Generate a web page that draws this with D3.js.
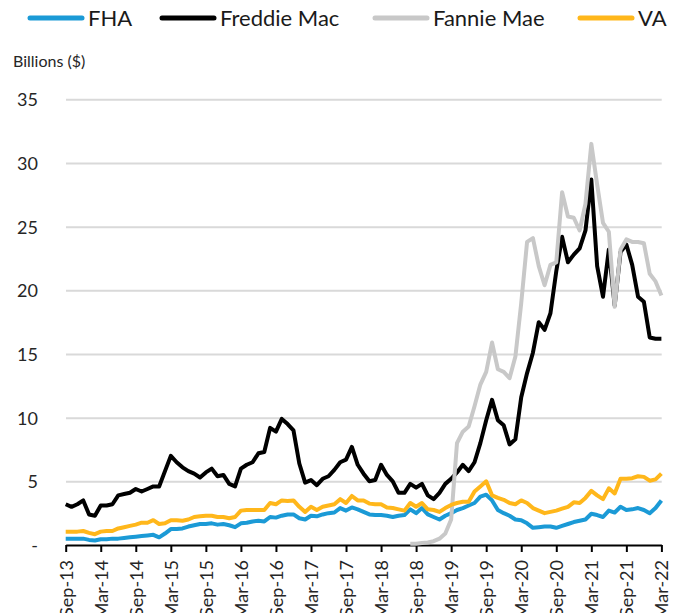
<!DOCTYPE html>
<html>
<head>
<meta charset="utf-8">
<script src="https://cdn.jsdelivr.net/npm/d3@7"></script>
<style>
  body { margin: 0; background: #fff; }
  svg { display: block; font-family: Lato, "Open Sans", sans-serif; }
</style>
</head>
<body>
<svg width="682" height="613"></svg>
<script>
// monthly, Sep-13 .. Mar-22, billions of dollars

var fha = [0.5, 0.5, 0.5, 0.5, 0.4, 0.35, 0.45, 0.45, 0.5, 0.5,
  0.55, 0.6, 0.65, 0.7, 0.75, 0.8, 0.6, 0.9, 1.25, 1.25,
  1.3, 1.45, 1.55, 1.65, 1.65, 1.7, 1.6, 1.65, 1.55, 1.4,
  1.7, 1.75, 1.85, 1.9, 1.85, 2.2, 2.15, 2.3, 2.4, 2.4,
  2.1, 2.0, 2.3, 2.25, 2.4, 2.5, 2.55, 2.9, 2.7, 2.95,
  2.8, 2.6, 2.4, 2.35, 2.35, 2.3, 2.2, 2.3, 2.35, 2.8,
  2.5, 2.9, 2.4, 2.2, 2.0, 2.3, 2.5, 2.75, 2.9, 3.1,
  3.3, 3.8, 3.95, 3.5, 2.75, 2.5, 2.3, 2.0, 1.95, 1.7,
  1.35, 1.4, 1.45, 1.45, 1.35, 1.5, 1.65, 1.8, 1.9, 2.0,
  2.45, 2.35, 2.2, 2.7, 2.55, 3.0, 2.75, 2.8, 2.9, 2.75,
  2.5, 2.9, 3.5];

var freddieMac = [3.2, 3.0, 3.2, 3.5, 2.4, 2.3, 3.1, 3.1, 3.2, 3.9,
  4.0, 4.1, 4.4, 4.2, 4.4, 4.6, 4.6, 5.8, 7.0, 6.5,
  6.1, 5.8, 5.6, 5.3, 5.7, 6.0, 5.4, 5.5, 4.8, 4.6,
  6.0, 6.3, 6.5, 7.2, 7.3, 9.2, 8.9, 9.9, 9.5, 9.0,
  6.4, 4.9, 5.1, 4.7, 5.2, 5.4, 5.9, 6.5, 6.7, 7.7,
  6.3, 5.6, 5.0, 5.1, 6.3, 5.5, 5.0, 4.1, 4.1, 4.8,
  4.5, 4.8, 3.9, 3.6, 4.1, 4.8, 5.2, 5.7, 6.3, 5.8,
  6.5, 8.0, 9.8, 11.4, 9.8, 9.4, 7.9, 8.3, 11.6, 13.5,
  15.1, 17.5, 16.9, 18.2, 21.5, 24.2, 22.2, 22.8, 23.3, 24.7,
  28.7, 21.9, 19.5, 23.2, 18.8, 23.0, 23.6, 22.0, 19.5, 19.1,
  16.3, 16.2, 16.2];

// Fannie Mae series only starts in Aug-18
var fannieMae = [null, null, null, null, null, null, null, null, null, null,
  null, null, null, null, null, null, null, null, null, null,
  null, null, null, null, null, null, null, null, null, null,
  null, null, null, null, null, null, null, null, null, null,
  null, null, null, null, null, null, null, null, null, null,
  null, null, null, null, null, null, null, null, null, 0.1,
  0.1, 0.15, 0.2, 0.3, 0.5, 0.9, 2.0, 8.0, 8.9, 9.3,
  10.9, 12.6, 13.6, 15.9, 13.8, 13.6, 13.1, 14.8, 19.0, 23.8,
  24.1, 21.9, 20.4, 22.0, 22.2, 27.7, 25.8, 25.7, 24.7, 26.8,
  31.5, 28.3, 25.3, 24.6, 18.7, 23.2, 24.0, 23.8, 23.8, 23.7,
  21.3, 20.7, 19.6];

var va = [1.05, 1.05, 1.05, 1.1, 0.95, 0.85, 1.05, 1.1, 1.1, 1.3,
  1.4, 1.5, 1.6, 1.75, 1.75, 1.95, 1.65, 1.7, 1.95, 1.95,
  1.9, 2.0, 2.2, 2.25, 2.3, 2.3, 2.2, 2.2, 2.1, 2.2,
  2.7, 2.75, 2.75, 2.75, 2.75, 3.3, 3.2, 3.5, 3.45, 3.5,
  3.0, 2.6, 3.0, 2.75, 3.0, 3.1, 3.2, 3.6, 3.3, 3.85,
  3.5, 3.5, 3.25, 3.2, 3.2, 2.95, 2.9, 2.8, 2.7, 3.3,
  3.0, 3.3, 2.8, 2.75, 2.6, 2.9, 3.15, 3.3, 3.4, 3.4,
  4.2, 4.6, 5.0, 3.9, 3.7, 3.55, 3.3, 3.2, 3.5, 3.3,
  2.9, 2.7, 2.5, 2.6, 2.7, 2.85, 3.0, 3.35, 3.3, 3.7,
  4.25, 3.9, 3.6, 4.45, 4.05, 5.2, 5.2, 5.25, 5.4, 5.35,
  5.05, 5.15, 5.6];

var seriesNames = ["FHA", "Freddie Mac", "Fannie Mae", "VA"];
var seriesColors = ["#1b9ad6", "#000000", "#c8c8c8", "#ffb71b"];
var seriesValues = [fha, freddieMac, fannieMae, va];

var yTicks = [0, 5, 10, 15, 20, 25, 30, 35];

var months = d3.timeMonth.range(new Date(2013, 8, 1), new Date(2022, 3, 1));
var fmtMonth = d3.timeFormat("%b-%y");

var svg = d3.select("svg");

var x = d3.scaleLinear()
    .domain([0, months.length - 1])
    .range([65.7, 661.4]);

var y = d3.scaleLinear()
    .domain([0, 35])
    .range([545, 99.3]);

// gridlines + y labels
var yAxis = d3.axisLeft(y)
    .tickValues(yTicks)
    .tickSize(-(661.4 - 65.7))
    .tickPadding(28)
    .tickFormat(function(d) { return d === 0 ? "-" : d; });

var gy = svg.append("g")
    .attr("transform", "translate(66,0)")
    .call(yAxis);

gy.select(".domain").remove();
gy.selectAll(".tick line")
    .attr("stroke", "#d9d9d9")
    .attr("stroke-width", 2)
    .filter(function(d) { return d === 0; }).remove();
gy.selectAll(".tick text")
    .attr("fill", "#262626")
    .attr("font-family", "Lato")
    .attr("font-size", 18)
    .attr("dy", "0.36em");

svg.append("text")
    .attr("x", 13)
    .attr("y", 67)
    .attr("fill", "#262626")
    .attr("font-size", 16)
    .text("Billions ($)");

// x axis, tick every 6 months
var tickIdx = d3.range(0, months.length, 6);

var xAxis = d3.axisBottom(x)
    .tickValues(tickIdx)
    .tickSize(7)
    .tickSizeOuter(0)
    .tickFormat(function(i) { return fmtMonth(months[i]); });

var gx = svg.append("g")
    .attr("transform", "translate(0,545)")
    .call(xAxis);

gx.select(".domain")
    .attr("stroke", "#000")
    .attr("stroke-width", 2);
gx.selectAll(".tick line")
    .attr("stroke", "#000")
    .attr("stroke-width", 2);
gx.selectAll(".tick text")
    .attr("fill", "#262626")
    .attr("font-family", "Lato")
    .attr("font-size", 18)
    .attr("text-anchor", "end")
    .attr("transform", "translate(0,15) rotate(-90)")
    .attr("x", 0)
    .attr("y", 0)
    .attr("dy", "0.36em");

// series
var line = d3.line()
    .defined(function(d) { return d != null; })
    .x(function(d, i) { return x(i); })
    .y(function(d) { return y(d); });

svg.append("g")
    .selectAll("path")
    .data(seriesValues)
    .enter().append("path")
      .attr("fill", "none")
      .attr("stroke", function(d, i) { return seriesColors[i]; })
      .attr("stroke-width", 4)
      .attr("stroke-linejoin", "round")
      .attr("d", line);

// legend
var legendX = [30, 162, 375, 580];

var legend = svg.append("g")
    .selectAll("g")
    .data(seriesNames)
    .enter().append("g")
      .attr("transform", function(d, i) { return "translate(" + legendX[i] + ",18)"; });

legend.append("line")
    .attr("x1", 0)
    .attr("x2", 52)
    .attr("stroke", function(d, i) { return seriesColors[i]; })
    .attr("stroke-width", 5)
    .attr("stroke-linecap", "round");

legend.append("text")
    .attr("x", 58)
    .attr("y", 8)
    .attr("fill", "#1a1a1a")
    .attr("font-size", 22)
    .text(function(d) { return d; });
</script>
</body>
</html>
